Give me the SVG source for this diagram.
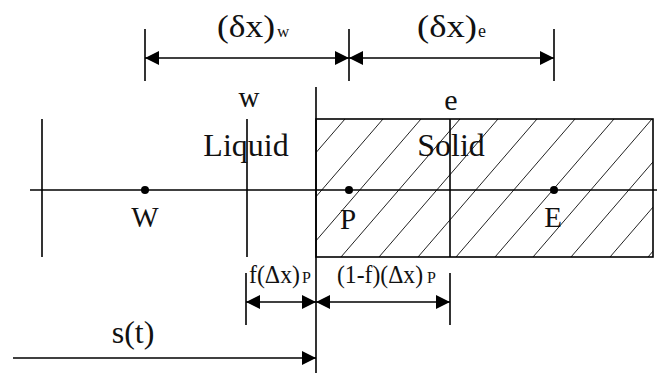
<svg xmlns="http://www.w3.org/2000/svg" width="657" height="376" viewBox="0 0 657 376">
<style>
.ln{stroke:#000;stroke-width:1.6;fill:none}
.hatch{stroke:#222;stroke-width:1;fill:none}
.dim{stroke:#000;stroke-width:1.6;fill:none;marker-start:url(#ah);marker-end:url(#ah)}
.t{font-family:"Liberation Serif","Times New Roman",serif;fill:#111}
.dot{fill:#000}
</style>
<defs>
<marker id="ah" markerUnits="userSpaceOnUse" markerWidth="15" markerHeight="15" refX="14" refY="7" orient="auto-start-reverse">
<path d="M0,0 L14,7 L0,14 z" fill="#000"/>
</marker>
<marker id="ahe" markerUnits="userSpaceOnUse" markerWidth="15" markerHeight="15" refX="14" refY="7" orient="auto">
<path d="M0,0 L14,7 L0,14 z" fill="#000"/>
</marker>
<clipPath id="solidClip"><rect x="316" y="119" width="337" height="138"/></clipPath>
</defs>
<rect width="657" height="376" fill="#fff"/>

<g id="solid-region">
<g clip-path="url(#solidClip)" class="hatch">
<line x1="345" y1="119" x2="226" y2="257"/>
<line x1="383" y1="119" x2="264" y2="257"/>
<line x1="421" y1="119" x2="302" y2="257"/>
<line x1="460" y1="119" x2="341" y2="257"/>
<line x1="498" y1="119" x2="379" y2="257"/>
<line x1="537" y1="119" x2="418" y2="257"/>
<line x1="575" y1="119" x2="456" y2="257"/>
<line x1="614" y1="119" x2="495" y2="257"/>
<line x1="652" y1="119" x2="533" y2="257"/>
<line x1="690" y1="119" x2="571" y2="257"/>
<line x1="729" y1="119" x2="610" y2="257"/>
<line x1="767" y1="119" x2="648" y2="257"/>
</g>
<rect x="316" y="119" width="337" height="138" class="ln"/>
<text x="451" y="156" text-anchor="middle" font-size="32" class="t">Solid</text>
</g>

<g id="grid-lines">
<line x1="30" y1="190" x2="657" y2="190" class="ln"/>
<line x1="42" y1="119" x2="42" y2="257" class="ln"/>
<line x1="247" y1="119" x2="247" y2="257" class="ln"/>
<line x1="450" y1="119" x2="450" y2="257" class="ln"/>
<line x1="316" y1="87" x2="316" y2="373" class="ln"/>
</g>

<g id="face-w">
<text x="249" y="107" text-anchor="middle" font-size="29" class="t">w</text>
</g>
<g id="face-e">
<text x="451" y="110" text-anchor="middle" font-size="30" class="t">e</text>
</g>
<g id="liquid-region">
<text x="246" y="156" text-anchor="middle" font-size="32" class="t">Liquid</text>
</g>

<g id="node-W">
<circle cx="145" cy="190" r="4" class="dot"/>
<text x="145" y="227" text-anchor="middle" font-size="29" class="t">W</text>
</g>
<g id="node-P">
<circle cx="349" cy="190" r="4" class="dot"/>
<text x="348" y="229" text-anchor="middle" font-size="29" class="t">P</text>
</g>
<g id="node-E">
<circle cx="554" cy="190" r="4" class="dot"/>
<text x="553" y="227" text-anchor="middle" font-size="29" class="t">E</text>
</g>

<g id="connectors">
<line x1="145" y1="29" x2="145" y2="81" class="ln"/>
<line x1="349" y1="29" x2="349" y2="81" class="ln"/>
<line x1="554" y1="29" x2="554" y2="81" class="ln"/>
<line x1="145" y1="58" x2="349" y2="58" class="dim"/>
<line x1="349" y1="58" x2="554" y2="58" class="dim"/>
<line x1="246" y1="273" x2="246" y2="325" class="ln"/>
<line x1="450" y1="273" x2="450" y2="325" class="ln"/>
<line x1="246" y1="302" x2="316" y2="302" class="dim"/>
<line x1="316" y1="302" x2="450" y2="302" class="dim"/>
<line x1="13" y1="358" x2="316" y2="358" class="ln" marker-end="url(#ahe)"/>
</g>

<g id="labels">
<text x="217" y="37" font-size="31" textLength="58" lengthAdjust="spacingAndGlyphs" class="t">(δx)</text>
<text x="277" y="37" font-size="17" class="t">w</text>
<text x="417" y="37" font-size="31" textLength="60" lengthAdjust="spacingAndGlyphs" class="t">(δx)</text>
<text x="478" y="37" font-size="18" class="t">e</text>
<text x="249" y="283" font-size="25" textLength="51" lengthAdjust="spacingAndGlyphs" class="t">f(Δx)</text>
<text x="302" y="283" font-size="16" class="t">P</text>
<text x="337" y="283" font-size="25" textLength="86" lengthAdjust="spacingAndGlyphs" class="t">(1-f)(Δx)</text>
<text x="427" y="283" font-size="16" class="t">P</text>
<text x="133" y="343" text-anchor="middle" font-size="32" class="t">s(t)</text>
</g>
</svg>
